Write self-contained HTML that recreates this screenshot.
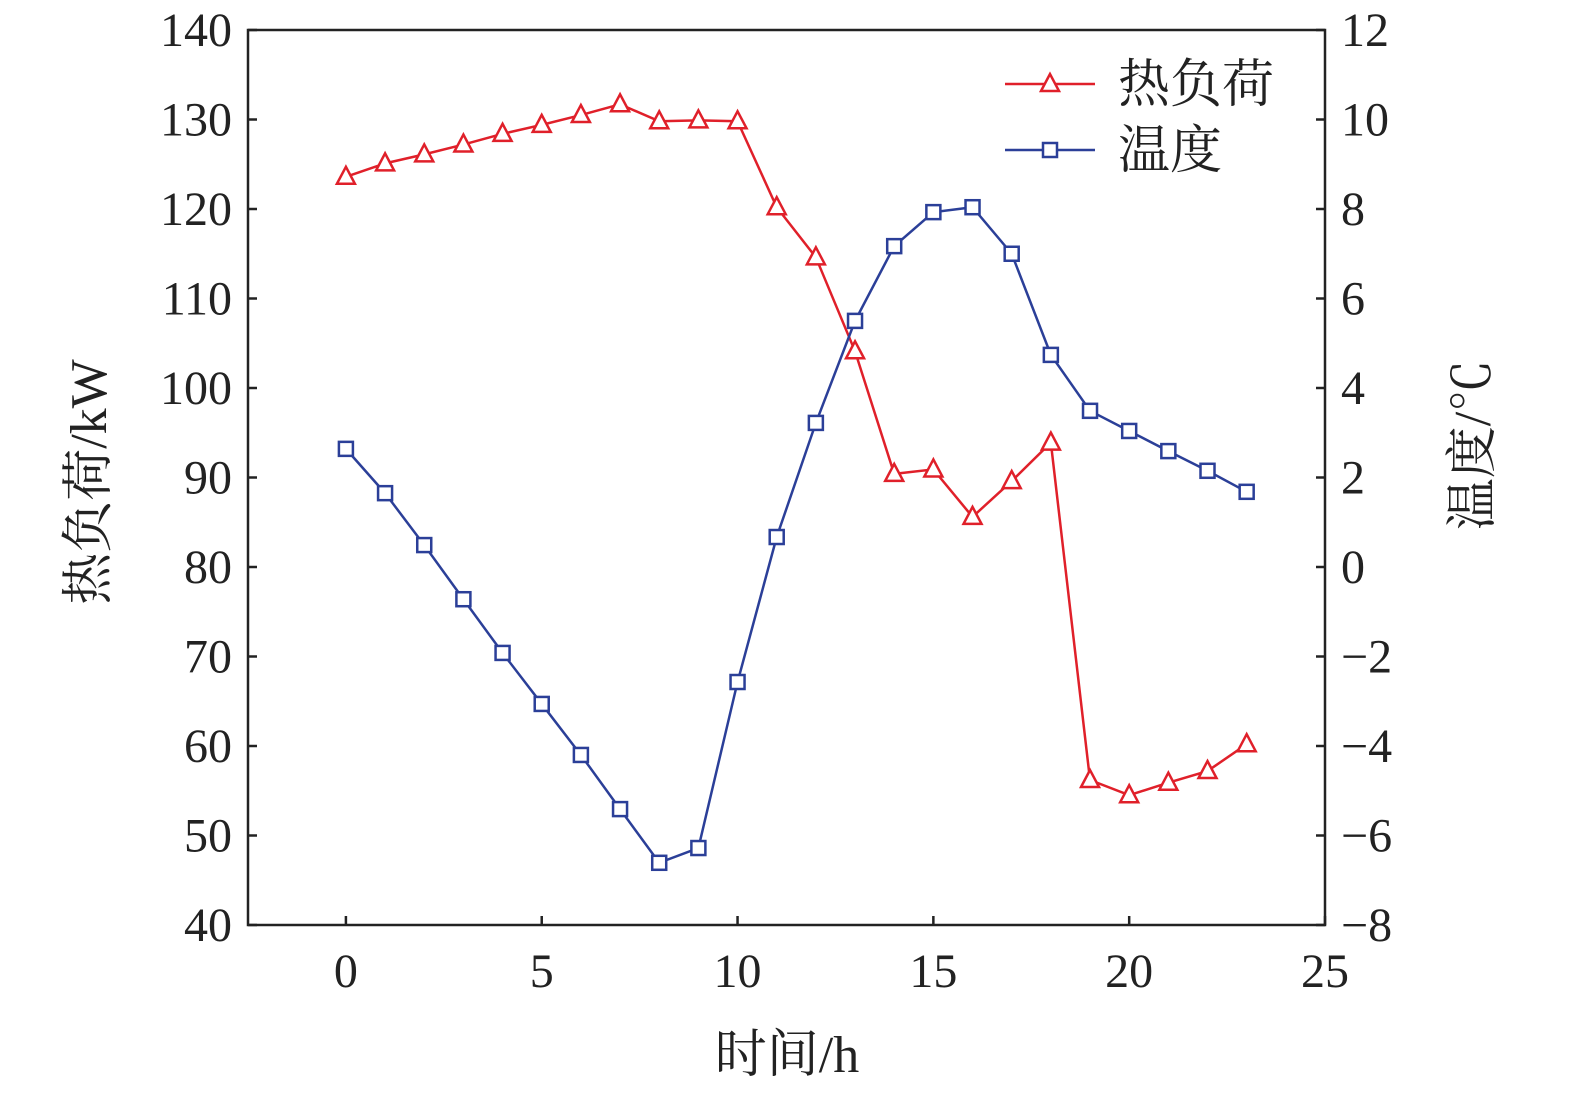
<!DOCTYPE html>
<html><head><meta charset="utf-8"><style>
body{margin:0;background:#fff;}
svg text{font-family:"Liberation Serif","Noto Serif CJK SC",serif;fill:#222;}
</style></head><body>
<svg id="chart" width="1575" height="1095" xmlns="http://www.w3.org/2000/svg"></svg>
<script>
const hours=[0,1,2,3,4,5,6,7,8,9,10,11,12,13,14,15,16,17,18,19,20,21,22,23];
const heatLoad=[123.6,125.1,126.1,127.2,128.4,129.4,130.5,131.7,129.8,129.9,129.8,120.2,114.6,104.1,90.4,90.9,85.6,89.6,93.9,56.2,54.5,55.9,57.2,60.2];
const temperature=[2.64,1.65,0.49,-0.72,-1.92,-3.06,-4.2,-5.41,-6.61,-6.28,-2.57,0.67,3.22,5.5,7.17,7.93,8.04,7.0,4.74,3.49,3.04,2.59,2.15,1.68];
const xTicks=[0,5,10,15,20,25];
const leftTicks=[40,50,60,70,80,90,100,110,120,130,140];
const rightTicks=[-8,-6,-4,-2,0,2,4,6,8,10,12];
const L=248,R=1325,T=30,B=925;
const sx=v=>L+(v+2.5)/27.5*(R-L);
const syL=v=>B-(v-40)/100*(B-T);
const syR=v=>B-(v+8)/20*(B-T);
const svg=document.getElementById('chart');
const NS='http://www.w3.org/2000/svg';
function mk(tag,attrs,parent){const e=document.createElementNS(NS,tag);for(const k in attrs)e.setAttribute(k,attrs[k]);(parent||svg).appendChild(e);return e;}
const frame=mk('rect',{x:L,y:T,width:R-L,height:B-T,fill:'none',stroke:'#222','stroke-width':2.5});


xTicks.forEach(v=>{const x=sx(v);
 const t=mk('line',{x1:x,x2:x,y1:B,y2:B-9,stroke:'#222','stroke-width':2.5});
 
 const l=mk('text',{x:x,y:B+62,'text-anchor':'middle','font-size':48});l.textContent=v;
 });
leftTicks.forEach(v=>{const y=syL(v);
 const t=mk('line',{x1:L,x2:L+9,y1:y,y2:y,stroke:'#222','stroke-width':2.5});
 
 const l=mk('text',{x:L-16,y:y+16,'text-anchor':'end','font-size':48});l.textContent=v;
 });
rightTicks.forEach(v=>{const y=syR(v);
 const t=mk('line',{x1:R,x2:R-9,y1:y,y2:y,stroke:'#222','stroke-width':2.5});
 
 const l=mk('text',{x:R+16,y:y+16,'text-anchor':'start','font-size':48});l.textContent=v<0?'\u2212'+(-v):v;
 });
const red='#e0202a',blue='#2b3f98';
function tri(x,y,c,n){const p=mk('polygon',{points:`${x},${y-10} ${x-9},${y+7} ${x+9},${y+7}`,fill:'#fff',stroke:c,'stroke-width':2.5});}
function sq(x,y,c,n){const p=mk('rect',{x:x-7,y:y-7,width:14,height:14,fill:'#fff',stroke:c,'stroke-width':2.5});}
const hl=mk('polyline',{points:hours.map((h,i)=>sx(h)+','+syL(heatLoad[i])).join(' '),fill:'none',stroke:red,'stroke-width':2.5});

const tl=mk('polyline',{points:hours.map((h,i)=>sx(h)+','+syR(temperature[i])).join(' '),fill:'none',stroke:blue,'stroke-width':2.5});

hours.forEach((h,i)=>tri(sx(h),syL(heatLoad[i]),red,'heat-load-point'));
hours.forEach((h,i)=>sq(sx(h),syR(temperature[i]),blue,'temperature-point'));
const l1=mk('line',{x1:1005,x2:1095,y1:84,y2:84,stroke:red,'stroke-width':2.5});
tri(1050,84,red,'legend-heat-marker');
const lt1=mk('text',{x:1118,y:102,'font-size':52});lt1.textContent='热负荷';
const l2=mk('line',{x1:1005,x2:1095,y1:150,y2:150,stroke:blue,'stroke-width':2.5});
sq(1050,150,blue,'legend-temp-marker');
const lt2=mk('text',{x:1118,y:168,'font-size':52});lt2.textContent='温度';
const xt=mk('text',{x:787,y:1072,'text-anchor':'middle','font-size':52});xt.textContent='时间/h';
const yt=mk('text',{x:0,y:0,'text-anchor':'middle','font-size':52,transform:'translate(106,482) rotate(-90)'});yt.textContent='热负荷/kW';
const rt=mk('text',{x:0,y:0,'text-anchor':'middle','font-size':52,transform:'translate(1490,445) rotate(-90)'});rt.textContent='温度/℃';
</script>
</body></html>
